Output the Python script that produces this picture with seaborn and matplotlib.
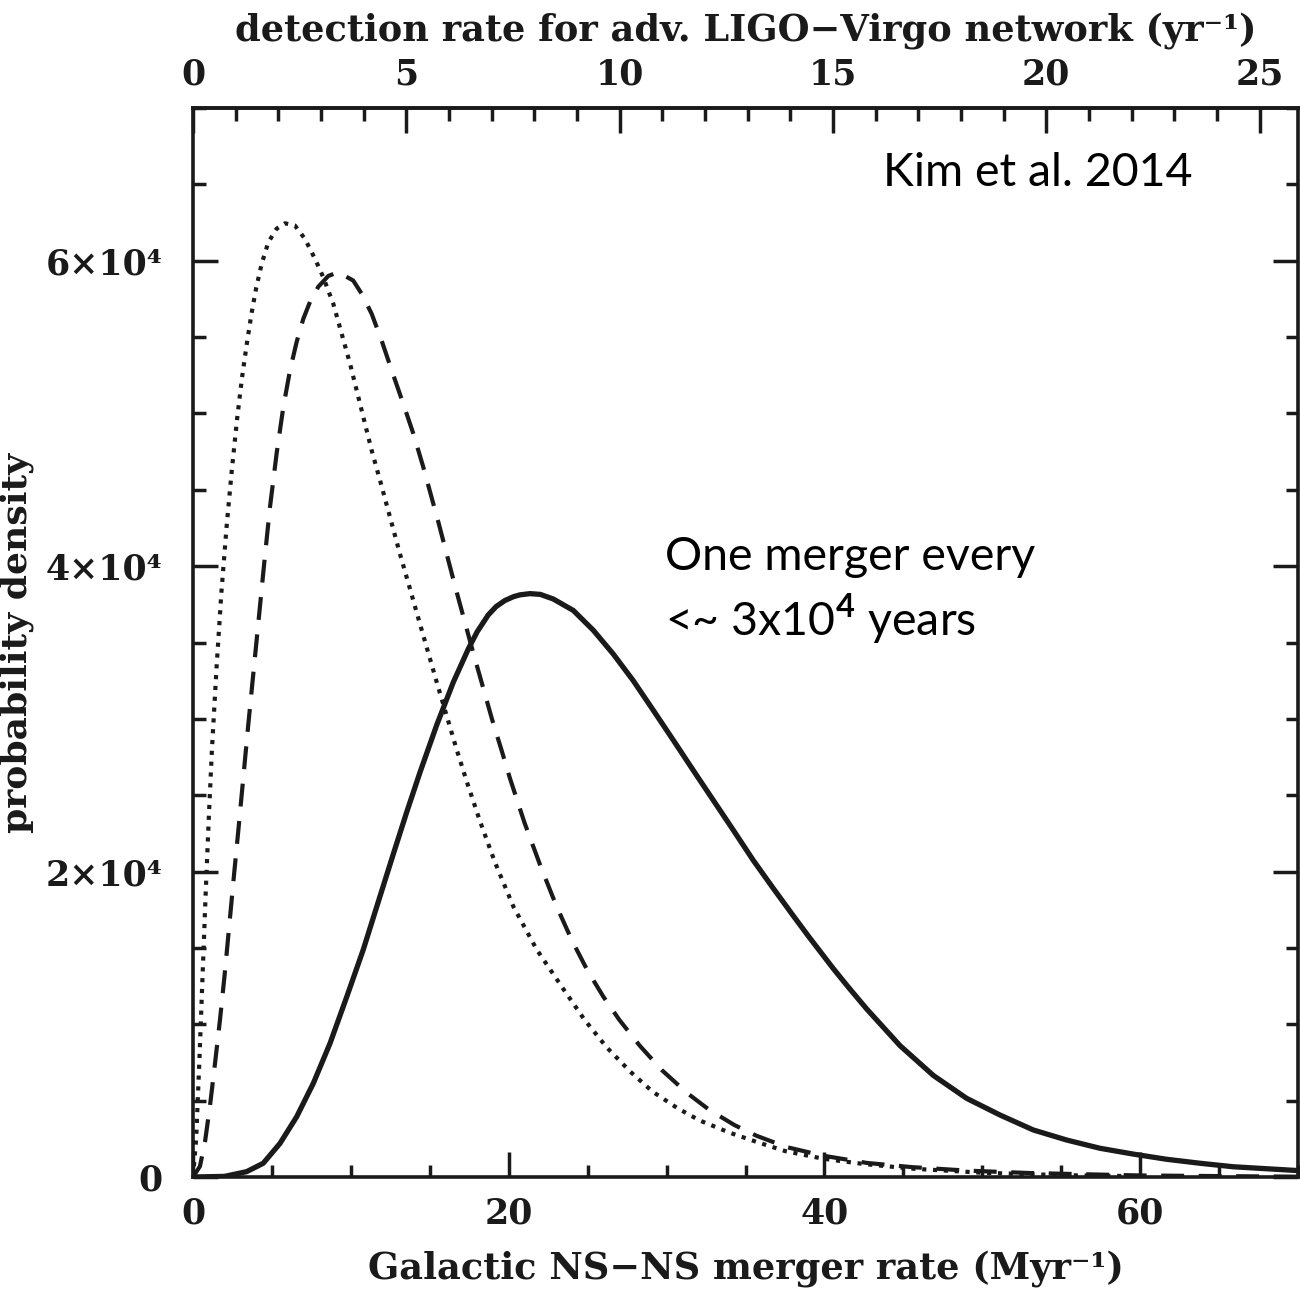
import numpy as np
import pandas as pd
import seaborn as sns
import matplotlib.pyplot as plt
from matplotlib.ticker import MultipleLocator, FixedLocator

# values (x in Myr^-1, y probability density)
solid_x = [0, 2.0, 3.4, 4.45, 5.51, 6.57, 7.62, 8.68, 9.74, 10.79, 11.64, 12.37, 12.69,
           13.54, 14.38, 15.44, 16.49, 17.45, 18.0, 18.7, 19.2, 19.76, 20.3, 20.71,
           21.35, 22.0, 22.82, 24.09, 25.36, 26.62, 27.89, 29.16, 30.43, 31.69, 32.96,
           34.23, 35.49, 36.76, 38.03, 39.0, 40.56, 41.5, 42.68, 44.79, 46.9, 49.01,
           51.12, 53.23, 55.35, 57.46, 59.57, 61.68, 63.79, 65.9, 70.0]
solid_y = [0, 40, 350, 900, 2200, 3950, 6130, 8750, 11800, 14900, 17700, 20100, 21150,
           23900, 26500, 29600, 32400, 34600, 35700, 36800, 37350, 37750, 38000, 38120,
           38200, 38150, 37850, 37100, 35800, 34250, 32500, 30560, 28600, 26630, 24670,
           22710, 20740, 18900, 17100, 15750, 13650, 12450, 11000, 8600, 6650, 5150,
           4060, 3080, 2420, 1880, 1500, 1160, 900, 670, 420]

dash_x = [0, 0.44, 0.76, 1.08, 1.39, 1.71, 2.0, 2.3, 2.6, 2.9, 3.2, 3.5, 3.72, 3.93,
          4.14, 4.35, 4.56, 4.88, 5.3, 5.72, 6.14, 6.57, 6.99, 7.41, 7.94, 8.57, 9.2,
          10.15, 10.69, 11.32, 11.95, 12.59, 13.32, 13.96, 14.59, 15.22, 15.54, 16.17,
          16.6, 17.23, 17.76, 18.39, 18.95, 19.56, 20.08, 21.0, 22.0, 23.0, 24.0, 25.0,
          26.0, 27.0, 28.3, 29.7, 31.3, 32.7, 34.3, 35.7, 37.6, 39.9, 42.7, 45.5, 49.0,
          53.0, 60.0, 70.0]
dash_y = [0, 700, 2300, 4700, 7400, 10300, 13200, 16500, 19800, 23000, 26300, 29600,
          31900, 34100, 36300, 38500, 40700, 43900, 47400, 50400, 52800, 54700, 56200,
          57300, 58300, 59000, 59250, 58700, 57830, 56520, 54770, 52810, 50630, 48670,
          46480, 44100, 42900, 40400, 38700, 36300, 34300, 32000, 29950, 27900, 26100,
          23200, 20400, 17800, 15500, 13500, 11800, 10300, 8600, 7000, 5500, 4400, 3400,
          2700, 1960, 1400, 920, 650, 420, 260, 100, 20]

dot_x = [0, 0.2, 0.4, 0.6, 0.8, 1.0, 1.2, 1.5, 1.8, 2.13, 2.45, 2.8, 3.1, 3.4, 3.7,
         4.0, 4.35, 4.77, 5.3, 5.83, 6.46, 7.09, 7.73, 8.25, 8.89, 9.42, 9.95, 10.37,
         10.79, 11.32, 11.85, 12.48, 13.11, 13.75, 14.27, 14.8, 15.44, 16.07, 16.7,
         17.34, 18.18, 19.13, 20.3, 21.77, 23.4, 24.8, 26.2, 27.7, 29.1, 30.7, 32.1,
         34.0, 35.7, 37.5, 39.9, 42.5, 45.5, 50.0, 55.0, 60.0]
dot_y = [0, 2500, 7500, 13000, 18500, 23500, 28000, 33500, 38300, 42600, 46200, 49700,
         52300, 54500, 56500, 58200, 59800, 61200, 62100, 62450, 62300, 61430, 60120,
         58920, 57170, 55210, 53250, 51500, 49760, 47570, 45610, 43210, 40800, 38500,
         36600, 34700, 32400, 30200, 28000, 25900, 23300, 20600, 17700, 14900, 12400,
         10300, 8500, 6900, 5600, 4500, 3700, 2900, 2300, 1700, 1200, 850, 550, 280, 120,
         50]

y_ticks = [0, 20000, 40000, 60000]
y_labels = ['0', '2×10⁴', '4×10⁴', '6×10⁴']
top_ticks = [0, 5, 10, 15, 20, 25]
det_per_merger = 0.37   # detection rate per unit merger rate (top axis)

sns.set_theme(style='ticks')
plt.rcParams['font.family'] = ['DejaVu Serif']
plt.rcParams['font.weight'] = 'bold'
plt.rcParams['mathtext.fontset'] = 'custom'
plt.rcParams['mathtext.rm'] = 'Lato'

ink = '#1a1a1a'
fig = plt.figure(figsize=(13, 12.97), dpi=100)
ax = fig.add_axes([193/1300, 1-1177/1297, (1298-193)/1300, (1177-108)/1297])

lw_frame = 2.6
sns.lineplot(x=dot_x, y=dot_y, ax=ax, color=ink, lw=3.0, linestyle=(0, (1, 1.6)))
sns.lineplot(x=dash_x, y=dash_y, ax=ax, color=ink, lw=3.0, linestyle=(0, (5.5, 3.5)))
sns.lineplot(x=solid_x, y=solid_y, ax=ax, color=ink, lw=3.8)

ax.set_xlim(0, 70)
ax.set_ylim(0, 70000)
ax.xaxis.set_major_locator(MultipleLocator(20))
ax.xaxis.set_minor_locator(MultipleLocator(5))
ax.yaxis.set_major_locator(FixedLocator(y_ticks))
ax.set_yticklabels(y_labels)
ax.yaxis.set_minor_locator(MultipleLocator(5000))

for s in ax.spines.values():
    s.set_visible(True)
    s.set_linewidth(lw_frame)
    s.set_color(ink)

ax.tick_params(which='both', direction='in', width=2.5, color=ink,
               top=False, right=True, labelsize=25, labelcolor=ink)
ax.tick_params(which='major', length=18)
ax.tick_params(which='minor', length=9)
ax.tick_params(axis='x', pad=14)
ax.tick_params(axis='y', pad=22)

secax = ax.secondary_xaxis('top', functions=(lambda x: x*det_per_merger,
                                               lambda x: x/det_per_merger))
secax.xaxis.set_major_locator(FixedLocator(top_ticks))
secax.xaxis.set_minor_locator(MultipleLocator(1))
secax.tick_params(which='both', direction='in', width=2.5, color=ink,
                  labelsize=25, labelcolor=ink, pad=12)
secax.tick_params(which='major', length=18)
secax.tick_params(which='minor', length=9)
secax.spines['top'].set_linewidth(lw_frame)

ax.set_xlabel('Galactic NS−NS merger rate (Myr⁻¹)', fontsize=26.5, fontweight='bold',
              color=ink, labelpad=14)
ax.set_ylabel('probability density', fontsize=26, fontweight='bold',
              color=ink, labelpad=8)
secax.set_xlabel('detection rate for adv. LIGO−Virgo network (yr⁻¹)', fontsize=26.5,
                 fontweight='bold', color=ink, labelpad=12)

fig.text(883/1300, 1-173/1297, 'Kim et al. 2014', fontsize=33.5, family='Lato',
         fontweight='normal', va='center', ha='left', color='black')
fig.text(665/1300, 1-557/1297, 'One merger every', fontsize=33.5, family='Lato',
         fontweight='normal', va='center', ha='left', color='black')
fig.text(665/1300, 1-618/1297, r'<~ 3x10$^{4}$ years', fontsize=33.5, family='Lato',
         fontweight='normal', va='center', ha='left', color='black')

fig.savefig('out.png', dpi=100)
